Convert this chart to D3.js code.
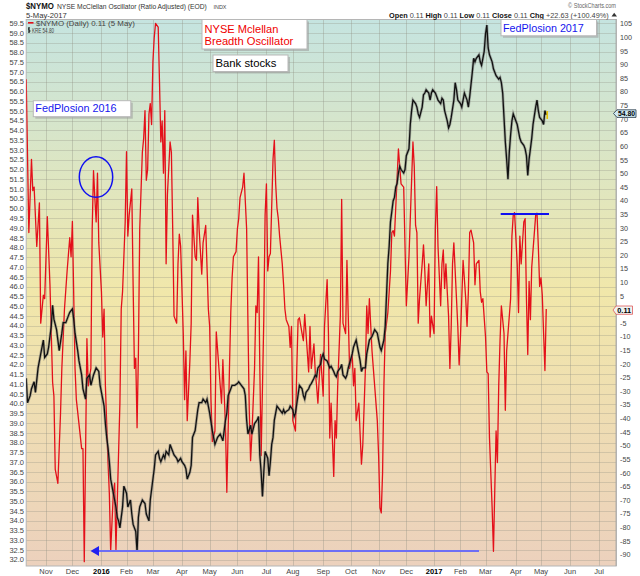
<!DOCTYPE html>
<html><head><meta charset="utf-8">
<script src="https://cdn.jsdelivr.net/npm/d3@7"></script>
<style>body{margin:0;background:#fff}svg{display:block}text{font-family:"Liberation Sans",Arial,sans-serif}</style>
</head><body><svg id="c" width="640" height="576"></svg>
<script>
// ---- data (trading-day index from 2015-10-12) ----
const startDate = "2015-10-12";
const endDate = "2017-07-20";
const holidays = ["2015-11-26","2015-12-25","2016-01-01","2016-01-18","2016-02-15","2016-03-25","2016-05-30","2016-07-04","2016-09-05","2016-11-24","2016-12-26","2017-01-02","2017-01-16","2017-02-20","2017-04-14","2017-05-29","2017-07-04"];

const nymoDay = [0,2,4,5,6,8,10,11,13,14,16,18,20,21,22,24,26,27,29,31,33,34,35,37,38,40,42,43,44,46,47,49,50,51,52,53,54,55,57,58,59,60,62,63,64,66,67,68,69,71,72,73,75,76,77,78,80,81,82,83,84,85,86,88,89,90,91,92,93,94,95,96,97,98,100,101,102,103,104,105,106,107,109,110,111,112,114,115,116,117,119,120,121,122,124,125,126,128,129,130,131,133,134,136,138,139,140,141,143,144,
147,148,149,151,152,154,155,156,157,159,160,161,162,164,165,167,168,169,170,171,173,174,175,176,177,178,180,181,182,183,184,185,187,188,189,190,191,192,194,195,196,197,199,200,201,202,204,205,206,207,209,210,211,212,214,215,216,218,219,220,221,223,225,226,228,229,230,231,233,234,235,236,238,239,240,242,243,244,245,247,248,249,250,252,253,254,255,257,258,259,260,262,263,264,266,267,268,269,270,271,272,274,276,277,278,279,282,284,286,288,290,
293,294,295,296,297,298,300,301,302,303,305,306,307,309,310,311,312,314,315,316,317,318,319,320,321,322,323,324,326,327,328,329,331,333,334,335,336,337,339,340,341,343,344,345,346,348,349,350,351,353,354,355,356,357,358,359,360,362,363,364,365,367,368,369,370,372,373,374,375,377,378,379,380,381,382,383,386,387,388,389,390,391,392,393,394];
const nymoVal = [84.5,28.2,55.1,43.6,44.9,23.1,39.1,-5.1,5.2,3.9,34.0,9.0,-26.8,-31.9,-58.8,-63.9,-38.3,-21.7,0.1,14.1,26.3,19.3,32.3,-21.7,-33.2,-42.2,-51.2,-51.2,-92.7,-10.8,-28.1,-21.7,29.5,50.9,41.0,32.1,50.0,24.4,6.5,-10.2,0.1,-28.1,-56.3,-67.8,-88.9,-67.8,-63.9,-88.3,-70.4,-34.5,0.1,6.5,32.1,57.9,26.9,34.6,44.2,9.0,-21.7,-17.9,-43.5,-16.6,29.5,57.7,62.8,73.0,47.4,51.3,71.7,75.6,67.9,90.9,99.9,105.0,103.7,83.3,61.5,69.2,50.0,73.0,16.7,42.3,61.5,57.7,29.5,-2.5,-5.1,16.7,27.6,23.1,-8.9,-33.2,-15.3,-40.9,-19.1,-5.1,34.6,19.3,18.0,41.0,29.5,12.9,24.4,30.8,0.1,-6.3,-33.2,-48.6,-44.7,-8.3,
-28.1,-34.5,-18.5,-43.5,-67.2,-21.7,-1.2,11.6,19.3,21.2,29.5,33.3,41.0,44.9,50.0,29.5,-5.1,-37.1,-55.6,-46.0,-21.7,1.3,-1.2,19.3,-21.7,-53.7,-3.8,34.6,46.1,14.1,19.3,20.5,55.1,62.1,46.1,37.2,33.3,26.9,16.7,9.0,0.1,-3.8,-6.3,-14.0,-6.3,-40.9,-44.7,-21.7,-3.8,-3.1,-8.9,-11.5,-1.9,-8.9,-23.0,-6.3,-21.7,-12.7,-23.0,-28.1,-34.5,-16.6,-31.9,-6.3,10.9,-8.9,-47.3,-34.5,-61.4,-40.9,-47.3,-28.1,-2.5,40.4,-5.1,-8.9,18.0,-2.5,-21.7,-16.6,-28.1,-21.7,-40.9,-34.5,-46.0,-56.9,-49.9,-21.7,1.3,-8.9,3.9,-15.3,-21.7,-28.1,-40.9,-53.7,-72.9,-74.8,-60.1,-28.1,-8.9,-1.2,14.1,28.2,28.9,26.9,58.9,46.1,44.9,1.3,19.3,
61.5,52.5,30.8,28.2,-5.1,3.9,16.7,23.7,14.1,1.3,16.7,-10.2,-2.5,-8.9,29.5,45.1,23.1,1.3,16.7,21.8,7.7,16.7,6.5,-2.5,-21.7,-6.3,16.7,24.4,3.9,-6.3,-20.4,-10.2,18.0,3.9,-6.3,6.5,28.2,29.1,24.4,9.0,16.7,18.0,6.5,2.6,3.9,-10.2,-23.0,-23.6,-47.3,-72.9,-88.9,-66.5,-44.7,-56.3,-28.1,-11.5,1.3,-8.9,-37.1,-15.3,-8.9,3.9,26.9,34.6,35.5,16.7,-1.2,26.9,16.7,32.1,33.3,3.9,-16.6,10.3,-3.8,15.4,34.6,35.3,23.1,8.4,11.6,5.2,-8.9,-22.5,0.11];

const kreDay = [0,1,3,4,6,7,9,11,13,14,16,17,19,20,21,23,25,27,28,30,32,33,35,36,37,39,40,42,43,45,46,48,49,51,53,55,56,58,59,60,61,62,63,64,66,68,69,70,71,73,74,76,77,79,80,81,83,84,85,86,87,88,90,91,93,94,95,97,98,100,101,102,104,105,106,108,109,111,112,114,115,117,118,120,121,122,124,125,126,128,129,130,131,133,134,136,137,138,139,141,142,143,145,
147,148,149,151,152,153,154,156,158,160,161,163,165,166,167,168,170,171,172,173,175,176,177,178,179,180,181,183,184,185,186,187,188,190,192,194,195,196,197,199,200,202,203,204,207,209,210,211,212,214,215,216,218,219,220,221,223,224,225,226,228,229,230,231,233,234,235,236,238,239,240,242,243,244,247,248,249,250,252,253,254,255,257,258,259,260,262,263,264,266,267,268,269,271,272,273,274,275,276,277,278,279,280,281,282,283,284,286,287,288,290,
291,292,293,295,296,297,298,300,301,302,303,305,306,307,308,310,311,312,314,315,316,317,319,320,321,322,324,325,326,327,329,330,331,332,334,335,336,338,339,340,341,343,344,345,346,347,348,349,350,351,352,353,354,355,356,358,359,360,361,362,363,364,365,366,367,368,369,370,372,373,374,375,377,378,379,380,381,382,383,384,386,387,388,389,391,392,393,394];
const kreVal = [41.30,40.05,40.41,40.76,41.12,40.58,41.83,42.55,43.26,42.37,42.55,42.90,43.97,45.04,44.33,43.79,42.72,43.61,44.15,44.15,44.51,44.68,44.86,44.33,43.61,42.72,42.19,41.47,40.76,40.23,41.30,41.47,40.94,41.47,41.83,41.65,40.94,40.23,39.87,38.98,38.27,37.73,37.02,36.13,35.41,34.70,34.17,33.99,33.63,34.70,35.77,35.41,34.70,35.06,34.34,33.81,33.45,32.40,34.17,34.70,34.88,35.06,34.88,34.34,33.99,35.06,35.59,36.66,37.37,37.55,37.20,37.02,37.37,37.20,37.55,37.37,37.91,37.55,37.37,37.20,37.02,37.20,37.02,36.84,36.66,36.13,36.48,36.84,38.27,38.62,39.16,39.69,40.05,40.05,40.23,40.05,40.23,39.87,39.51,38.62,38.27,37.91,38.27,
38.44,38.27,38.09,39.16,39.51,40.41,40.58,40.94,40.94,41.03,41.12,40.94,40.76,40.41,39.16,38.44,38.89,38.44,38.71,38.98,39.16,39.34,37.37,36.48,35.24,36.48,37.55,37.20,36.30,37.02,37.91,38.27,39.16,39.87,39.69,39.51,39.69,39.51,39.60,39.69,39.87,39.69,39.34,39.51,40.94,40.76,40.41,40.23,40.58,40.76,40.94,41.03,41.30,41.47,41.38,41.83,42.01,42.37,42.55,42.28,42.19,42.01,41.83,41.92,41.65,41.47,41.38,41.65,41.83,42.01,41.47,41.30,41.47,41.83,42.55,42.90,43.08,43.26,42.55,42.19,41.65,41.83,41.83,42.55,42.90,43.26,43.44,43.61,43.79,43.61,43.26,42.90,42.72,43.26,43.97,45.58,47.18,48.07,49.32,49.85,50.39,50.57,51.10,51.28,51.82,52.17,52.00,51.82,52.00,52.71,53.06,
54.31,55.02,55.56,55.38,55.20,54.85,54.67,55.20,55.83,55.92,56.09,55.92,55.56,55.92,56.09,55.92,55.74,55.56,55.38,55.65,55.56,55.02,54.49,54.13,54.31,54.67,55.56,56.45,56.09,55.56,55.38,55.20,55.56,55.92,55.56,55.20,55.74,56.99,57.70,57.52,57.70,57.88,57.52,57.34,57.70,58.06,58.95,59.40,58.23,57.88,57.70,57.52,57.16,56.99,56.81,56.63,56.72,56.45,55.92,54.67,53.42,52.53,51.50,52.88,53.78,54.49,54.85,54.67,54.31,53.95,53.60,53.42,53.24,53.06,52.71,51.70,52.53,53.06,53.60,54.31,55.20,55.56,55.02,54.67,54.49,54.31,55.02,54.80];

const leftTicks = d3.range(0, 56).map(i => 32 + i * 0.5);
const rightTicks = d3.range(-90, 106, 5).filter(v => v !== 0); // "0" sits under the 0.11 marker

// ---- layout ----
const svg = d3.select("#c");
const P = {l: 26.2, r: 616.2, t: 19.5, b: 566};
const x = d3.scaleLinear().domain([0, 447]).range([P.l, P.r]);
const yL = d3.scaleLinear().domain([32, 59.5]).range([559.7, 23.2]);
const yR = d3.scaleLinear().domain([-90, 105]).range([554.3, 23.5]);

// trading-day month ticks
const parse = d3.utcParse("%Y-%m-%d"), fmt = d3.utcFormat("%Y-%m-%d");
const hol = new Set(holidays);
const monthTicks = [];
{
  let i = 0, last = -1;
  for (let d = parse(startDate); d <= parse(endDate); d = d3.utcDay.offset(d, 1)) {
    const wd = d.getUTCDay();
    if (wd === 0 || wd === 6 || hol.has(fmt(d))) continue;
    const m = d.getUTCFullYear() * 12 + d.getUTCMonth();
    if (m !== last) { if (last !== -1) monthTicks.push({date: d, idx: i}); last = m; }
    i++;
  }
}

const defs = svg.append("defs");
const g = defs.append("linearGradient").attr("id", "bg").attr("x1", 0).attr("y1", 0).attr("x2", 0).attr("y2", 1);
[[0, "#c5e4e0"], [0.5, "#f1e7aa"], [1, "#ecd1bd"]].forEach(s => g.append("stop").attr("offset", s[0]).attr("stop-color", s[1]));
defs.append("clipPath").attr("id", "clip").append("rect").attr("x", P.l).attr("y", P.t).attr("width", P.r - P.l).attr("height", P.b - P.t);

svg.append("rect").attr("x", P.l).attr("y", P.t).attr("width", P.r - P.l).attr("height", P.b - P.t).attr("fill", "url(#bg)");

// grid
svg.append("g").selectAll("line").data(leftTicks).join("line")
  .attr("x1", P.l).attr("x2", P.r).attr("y1", d => Math.round(yL(d)) + 0.5).attr("y2", d => Math.round(yL(d)) + 0.5)
  .attr("stroke", "#8f8f80").attr("stroke-opacity", 0.3);
svg.append("g").selectAll("line").data(monthTicks).join("line")
  .attr("y1", P.t).attr("y2", P.b).attr("x1", d => Math.round(x(d.idx)) + 0.5).attr("x2", d => Math.round(x(d.idx)) + 0.5)
  .attr("stroke", "#8f8f80").attr("stroke-opacity", 0.35);

// border
svg.append("rect").attr("x", P.l).attr("y", P.t).attr("width", P.r - P.l).attr("height", P.b - P.t)
  .attr("fill", "none").attr("stroke", "#b5b5b5");
svg.append("line").attr("x1", P.r).attr("x2", P.r).attr("y1", P.t).attr("y2", P.b)
  .attr("stroke", "#888").attr("stroke-dasharray", "1,1");

const plot = svg.append("g").attr("clip-path", "url(#clip)");
const nymo = nymoDay.map((d, i) => [d, nymoVal[i]]);
const kre = kreDay.map((d, i) => [d, kreVal[i]]);
plot.append("path").attr("d", d3.line().x(d => x(d[0])).y(d => yR(d[1]))(nymo))
  .attr("fill", "none").attr("stroke", "#e4101a").attr("stroke-width", 1.3).attr("stroke-linejoin", "round");
const kLine = d3.line().x(d => x(d[0])).y(d => yL(d[1]));
plot.append("path").attr("d", kLine(kre)).attr("fill", "none").attr("stroke", "#707070").attr("stroke-opacity", 0.5).attr("stroke-width", 2.8);
plot.append("path").attr("d", kLine(kre)).attr("fill", "none").attr("stroke", "#111").attr("stroke-width", 1.3);
const lastK = kre[kre.length - 1];
plot.append("line").attr("x1", x(lastK[0]) + 1).attr("x2", x(lastK[0]) + 1).attr("y1", yL(lastK[1]) - 4).attr("y2", yL(lastK[1]) + 4)
  .attr("stroke", "#e6c200").attr("stroke-width", 1.6);

// text helper: width fitted by a horizontal scale so the box matches the drawn glyphs
function txt(parent, xx, yy, s, o = {}) {
  const gg = parent.append("g").attr("transform", `translate(${xx},${yy})`);
  const t = gg.append("text").attr("x", 0).attr("y", 0).text(s)
    .attr("font-size", o.size || 8).attr("fill", o.fill || "#333")
    .attr("font-weight", o.weight || "normal").attr("text-anchor", o.anchor || "start");
  if (o.len) {
    const w = t.node().getComputedTextLength();
    if (w > 0) gg.attr("transform", `translate(${xx},${yy}) scale(${o.len / w},1)`);
  }
  return t;
}

// axes labels
const ax = svg.append("g");
leftTicks.forEach(v => txt(ax, 24, yL(v) + 2.7, v.toFixed(1), {size: 7.5, anchor: "end", fill: "#444"}));
rightTicks.forEach(v => txt(ax, 620, yR(v) + 2.9, String(v), {size: 7.2, fill: "#444"}));
const mf = d3.utcFormat("%b");
monthTicks.forEach(d => {
  const jan = d.date.getUTCMonth() === 0;
  txt(ax, x(d.idx), 573.5, jan ? String(d.date.getUTCFullYear()) : mf(d.date),
    {size: 7.5, anchor: "middle", weight: jan ? "bold" : "normal", fill: jan ? "#000" : "#444"});
});

// header
txt(svg, 26, 9.3, "$NYMO", {size: 9.5, weight: "bold", fill: "#111", len: 28});
txt(svg, 57, 9.3, "NYSE McClellan Oscillator (Ratio Adjusted) (EOD)", {size: 8, fill: "#333", len: 150});
txt(svg, 213.5, 9.3, "INDX", {size: 6, fill: "#444", len: 13});
txt(svg, 26, 18, "5-May-2017", {size: 7, fill: "#333", len: 41});
txt(svg, 616, 8, "© StockCharts.com", {size: 7, fill: "#666", anchor: "end", len: 48});
{
  const gg = svg.append("g");
  const hdr = gg.append("text").attr("x", 0).attr("y", 0).attr("font-size", 7.5).attr("fill", "#333");
  [["Open", 1], [" 0.11 ", 0], ["High", 1], [" 0.11 ", 0], ["Low", 1], [" 0.11 ", 0], ["Close", 1], [" 0.11 ", 0], ["Chg", 1], [" +22.63 (+100.49%)", 0]]
    .forEach(p => hdr.append("tspan").text(p[0]).attr("font-weight", p[1] ? "bold" : "normal").attr("fill", p[1] ? "#111" : "#444"));
  const w = hdr.node().getComputedTextLength();
  gg.attr("transform", `translate(389,17.5) scale(${220 / w},1)`);
}
svg.append("path").attr("d", "M611.5,16.5 L614.2,12.8 L617,16.5 Z").attr("fill", "#333");

// legend
svg.append("line").attr("x1", 28).attr("x2", 33.5).attr("y1", 22.8).attr("y2", 22.8).attr("stroke", "#e4101a").attr("stroke-width", 1.6);
txt(svg, 36, 25.5, "$NYMO (Daily) 0.11 (5 May)", {size: 7.5, fill: "#444", len: 99});
svg.append("path").attr("d", "M29,27 V33 M28,29 H29 M29,31 H30.5").attr("stroke", "#111").attr("stroke-width", 1.2).attr("fill", "none");
txt(svg, 32, 32.5, "KRE 54.80", {size: 6.5, fill: "#444", len: 22});

// annotation boxes
function box(x0, y0, w, h) {
  svg.append("rect").attr("x", x0 + 2).attr("y", y0 + 2).attr("width", w).attr("height", h).attr("fill", "#9a9a9a").attr("opacity", 0.55);
  svg.append("rect").attr("x", x0).attr("y", y0).attr("width", w).attr("height", h).attr("fill", "#fff").attr("stroke", "#b8b8b8");
}
box(202, 19.5, 105, 29.5);
txt(svg, 204.5, 32.5, "NYSE Mclellan", {size: 11.5, fill: "#f00000", len: 74});
txt(svg, 204.5, 45, "Breadth Oscillator", {size: 11.5, fill: "#f00000", len: 89});
box(213, 55, 75, 16.5);
txt(svg, 215.5, 67.2, "Bank stocks", {size: 11, fill: "#000", len: 61});
box(33.3, 100.7, 97.5, 16);
txt(svg, 35.3, 112.3, "FedPlosion 2016", {size: 11, fill: "#1515ee", len: 81.5});
box(501, 19.5, 95.5, 16.3);
txt(svg, 503, 31.5, "FedPlosion 2017", {size: 11, fill: "#1515ee", len: 81});

// drawn annotations
svg.append("ellipse").attr("cx", 96).attr("cy", 177).attr("rx", 16.7).attr("ry", 20.3)
  .attr("fill", "none").attr("stroke", "#1010f0").attr("stroke-width", 1.5);
svg.append("line").attr("x1", 500.7).attr("x2", 549).attr("y1", 214).attr("y2", 214).attr("stroke", "#1010f0").attr("stroke-width", 1.8);
svg.append("line").attr("x1", 98).attr("x2", 479).attr("y1", 551).attr("y2", 551).attr("stroke", "#6e6ef5").attr("stroke-width", 2.2);
svg.append("path").attr("d", "M90.5,551 L99,546 L99,556 Z").attr("fill", "#2020f0");

// value labels on right axis
svg.append("path").attr("d", "M613.5,113.5 L617,109.8 L636,109.8 L636,117.4 L617,117.4 Z").attr("fill", "#cfe9f3").attr("stroke", "#223344").attr("stroke-width", 0.8);
txt(svg, 626.5, 116.1, "54.80", {size: 6.8, weight: "bold", fill: "#000", anchor: "middle", len: 17});
svg.append("path").attr("d", "M613,310 L616,306 L632.5,306 L632.5,314.3 L616,314.3 Z").attr("fill", "#eef4f2").attr("stroke", "#e05a5a").attr("stroke-width", 0.8);
txt(svg, 624.2, 312.8, "0.11", {size: 7, weight: "bold", fill: "#000", anchor: "middle", len: 14});
</script></body></html>
